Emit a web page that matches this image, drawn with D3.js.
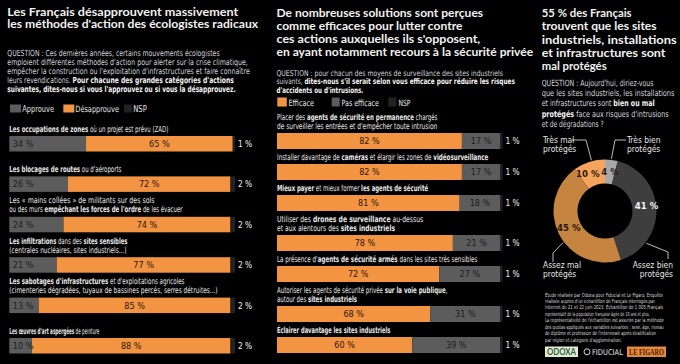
<!DOCTYPE html>
<html><head><meta charset="utf-8">
<script src="https://cdn.jsdelivr.net/npm/d3@7"></script>
<style>
html,body{margin:0;padding:0;background:#000;}
svg{display:block;}
</style></head>
<body>
<svg id="c" width="680" height="364"></svg>
<script>
// ---------------- DATA ----------------
const p1Title = ["Les Français désapprouvent massivement","les méthodes d'action des écologistes radicaux"];
const p1Question = [
  "QUESTION : Ces dernières années, certains mouvements écologistes",
  "emploient différentes méthodes d'action pour alerter sur la crise climatique,",
  "empêcher la construction ou l'exploitation d'infrastructures et faire connaître",
  "leurs revendications. **Pour chacune des grandes catégories d'actions**",
  "**suivantes, dites-nous si vous l'approuvez ou si vous la désapprouvez.**"
];
const p1Legend = ["Approuve","Désapprouve","NSP"];
const p1Categories = [
  ["**Les occupations de zones** où un projet est prévu (ZAD)"],
  ["**Les blocages de routes** ou d'aéroports"],
  ["Les « mains collées » de militants sur des sols","ou des murs **empêchant les forces de l'ordre** de les évacuer"],
  ["**Les infiltrations** dans des **sites sensibles**","(centrales nucléaires, sites industriels...)"],
  ["**Les sabotages d'infrastructures** et d'exploitations agricoles","(cimenteries dégradées, tuyaux de bassines percés, serres détruites...)"],
  ["**Les œuvres d'art aspergées** de peinture"]
];
const p1Approve    = [34, 26, 24, 21, 13, 10];
const p1Disapprove = [65, 72, 74, 77, 85, 88];
const p1Nsp        = [1, 2, 2, 2, 2, 2];

const p2Title = ["De nombreuses solutions sont perçues","comme efficaces pour lutter contre","ces actions auxquelles ils s'opposent,","en ayant notamment recours à la sécurité privée"];
const p2Question = [
  "QUESTION : pour chacun des moyens de surveillance des sites industriels",
  "suivants, **dites-nous s'il serait selon vous efficace pour réduire les risques**",
  "**d'accidents ou d'intrusions.**"
];
const p2Legend = ["Efficace","Pas efficace","NSP"];
const p2Categories = [
  ["Placer des **agents de sécurité en permanence** chargés","de surveiller les entrées et d'empêcher toute intrusion"],
  ["Installer davantage de **caméras** et élargir les zones de **vidéosurveillance**"],
  ["**Mieux payer** et mieux former **les agents de sécurité**"],
  ["Utiliser des **drones de surveillance** au-dessus","et aux alentours des **sites industriels**"],
  ["La présence d'**agents de sécurité armés** dans les sites très sensibles"],
  ["Autoriser les agents de sécurité privée **sur la voie publique**,","autour des **sites industriels**"],
  ["**Éclairer davantage les sites industriels**"]
];
const p2Effective    = [82, 82, 81, 78, 72, 68, 60];
const p2NotEffective = [17, 17, 18, 21, 27, 31, 39];
const p2Nsp          = [1, 1, 1, 1, 1, 1, 1];

const p3Title = ["55 % des Français","trouvent que les sites","industriels, installations","et infrastructures sont","mal protégés"];
const p3Question = [
  "QUESTION : Aujourd'hui, diriez-vous",
  "que les sites industriels, les installations",
  "et infrastructures sont **bien ou mal**",
  "**protégés** face aux risques d'intrusions",
  "et de dégradations ?"
];
const donutCategories = [["Très bien","protégés"],["Assez bien","protégés"],["Assez mal","protégés"],["Très mal","protégés"]];
const donutValues = [4, 41, 45, 10];

const footnote = [
  "Étude réalisée par Odoxa pour Fiducial et Le Figaro. Enquête",
  "réalisée auprès d'un échantillon de Français interrogés par",
  "Internet du 21 et 22 juin 2023. Échantillon de 1 005 Français",
  "représentatif de la population française âgée de 18 ans et plus.",
  "La représentativité de l'échantillon est assurée par la méthode",
  "des quotas appliqués aux variables suivantes : sexe, âge, niveau",
  "de diplôme et profession de l'interviewé après stratification",
  "par région et catégorie d'agglomération."
];

// ---------------- LAYOUT / STYLE ----------------
const C = {orange:"#f39443", gray:"#5c5c5c", nsp:"#222222", text:"#eeeeee", q:"#cfd6dd", dark:"#222"};
const FT = "'Lato','Open Sans','Noto Sans',sans-serif";
const FB = "'Liberation Sans Narrow','DejaVu Sans Condensed','Roboto Condensed','Liberation Sans',sans-serif";
const p1TitleW = [231, 251], p1QW = [212, 240, 242, 226, 228];
const p1LabelW = [[159],[112],[145,173],[118,117],[175,208],[90]];
const p2TitleW = [207, 186, 204, 257], p2QW = [227, 239, 87];
const p2LabelW = [[160,160],[211],[151],[146,118],[200],[170,80],[113]];
const p3TitleW = [90, 115, 135, 124, 65], p3QW = [112, 133, 113, 127, 62];
const footW = [118, 110, 118, 105, 119, 119, 111, 77];

const svg = d3.select("#c");
svg.append("rect").attr("width",680).attr("height",364).attr("fill","#000");

function rich(parent, str, o) {
  const g = parent.append("g").attr("transform", `translate(${o.x},${o.y})`);
  const t = g.append("text").attr("font-size", o.size).attr("font-family", o.family || FB)
    .attr("fill", o.fill || C.text).attr("text-anchor", o.anchor || "start");
  str.split("**").forEach((seg, i) => {
    if (!seg) return;
    const s = t.append("tspan").text(seg).attr("font-weight", i % 2 ? 700 : (o.weight || 400));
    if (i % 2 && o.boldFill) s.attr("fill", o.boldFill);
  });
  if (o.w) {
    const nat = t.node().getComputedTextLength();
    if (nat > 0) g.attr("transform", `translate(${o.x},${o.y}) scale(${o.w / nat},1)`);
  }
  return t;
}

// ---------------- PANEL 1 ----------------
const g1 = svg.append("g");
p1Title.forEach((s, i) => rich(g1, s, {x:7.3, y:16 + i*12, size:12, family:FT, weight:700, fill:"#f2f2f2", w:p1TitleW[i]}));
p1Question.forEach((s, i) => rich(g1, s, {x:7.3, y:56 + i*9, size:8.4, fill:C.q, boldFill:"#f4f4f4", w:p1QW[i]}));
[[C.gray,10,22.3,31.7],[C.orange,63.3,75.3,43.7],[C.nsp,124,133.3,13.4]].forEach((d, i) => {
  g1.append("rect").attr("x", d[1]).attr("y", 104.5).attr("width", i===2?8:11).attr("height", 8).attr("fill", d[0]);
  rich(g1, p1Legend[i], {x:d[2], y:112, size:8.6, fill:"#e6e6e6", w:d[3]});
});
const x1 = d3.scaleLinear().domain([0, 100]).range([9.3, 235]);
const y1 = d3.scaleBand().domain(d3.range(p1Categories.length)).range([136, 136 + 40.4*6]).paddingInner(0);
const bh1 = 15.5;
p1Categories.forEach((lines, i) => {
  const top = y1(i);
  lines.forEach((s, j) => rich(g1, s, {x:9.3, y: top - 4.5 - (lines.length - 1 - j)*9.2, size:8.4, fill:"#e8e8e8", w:p1LabelW[i][j]}));
  const a = p1Approve[i], d = p1Disapprove[i], n = p1Nsp[i];
  g1.append("rect").attr("x", x1(0)).attr("y", top).attr("width", x1(a) - x1(0)).attr("height", bh1).attr("fill", C.gray);
  g1.append("rect").attr("x", x1(a)).attr("y", top).attr("width", x1(a + d) - x1(a)).attr("height", bh1).attr("fill", C.orange);
  g1.append("rect").attr("x", x1(a + d)).attr("y", top).attr("width", x1(a + d + n) - x1(a + d)).attr("height", bh1).attr("fill", C.nsp);
  rich(g1, a + " %", {x:x1(0) + 3.5, y: top + bh1/2 + 3.2, size:9, fill:"#1e1e1e"});
  rich(g1, d + " %", {x:(x1(a) + x1(a + d))/2, y: top + bh1/2 + 3.2, size:9, fill:"#2a1707", anchor:"middle"});
  rich(g1, n + " %", {x:x1(100) + 3, y: top + bh1/2 + 3.2, size:8.3, fill:"#f0f0f0"});
});

// ---------------- PANEL 2 ----------------
const g2 = svg.append("g");
p2Title.forEach((s, i) => rich(g2, s, {x:276.5, y:16.5 + i*13.3, size:12, family:FT, weight:700, fill:"#f2f2f2", w:p2TitleW[i]}));
p2Question.forEach((s, i) => rich(g2, s, {x:276.5, y:75.5 + i*8.6, size:8, fill:C.q, boldFill:"#f4f4f4", w:p2QW[i]}));
[[C.orange,277.3,288.5,25.5],[C.gray,331.7,341.5,37.5],[C.nsp,388.3,398.5,12]].forEach((d, i) => {
  g2.append("rect").attr("x", d[1]).attr("y", 97.5).attr("width", i===0?9.5:8).attr("height", 9).attr("fill", d[0]);
  rich(g2, p2Legend[i], {x:d[2], y:105.5, size:8.6, fill:"#e6e6e6", w:d[3]});
});
const x2 = d3.scaleLinear().domain([0, 100]).range([277, 502.5]);
const bh2 = 16, lh2 = 9, gap2 = 6;
let tops2 = [], acc = 133;
p2Categories.forEach((lines, i) => {
  if (i > 0) acc += bh2 + gap2 + lines.length * lh2;
  tops2.push(acc);
});
p2Categories.forEach((lines, i) => {
  const top = tops2[i];
  lines.forEach((s, j) => rich(g2, s, {x:277, y: top - 4.5 - (lines.length - 1 - j)*8.8, size:8.4, fill:"#e8e8e8", w:p2LabelW[i][j]}));
  const e = p2Effective[i], ne = p2NotEffective[i], n = p2Nsp[i];
  g2.append("rect").attr("x", x2(0)).attr("y", top).attr("width", x2(e) - x2(0)).attr("height", bh2).attr("fill", C.orange);
  g2.append("rect").attr("x", x2(e)).attr("y", top).attr("width", x2(e + ne) - x2(e)).attr("height", bh2).attr("fill", C.gray);
  g2.append("rect").attr("x", x2(e + ne)).attr("y", top).attr("width", x2(e + ne + n) - x2(e + ne)).attr("height", bh2).attr("fill", C.nsp);
  rich(g2, e + " %", {x:(x2(0) + x2(e))/2, y: top + bh2/2 + 3.2, size:9, fill:"#2a1707", anchor:"middle"});
  rich(g2, ne + " %", {x:(x2(e) + x2(e + ne))/2, y: top + bh2/2 + 3.2, size:9, fill:"#1e1e1e", anchor:"middle"});
  rich(g2, n + " %", {x:x2(100) + 3, y: top + bh2/2 + 3.2, size:8.3, fill:"#f0f0f0"});
});

// ---------------- PANEL 3 ----------------
const g3 = svg.append("g");
p3Title.forEach((s, i) => rich(g3, s, {x:541.7, y:17 + i*13.3, size:12, family:FT, weight:700, fill:"#f2f2f2", w:p3TitleW[i]}));
p3Question.forEach((s, i) => rich(g3, s, {x:541.7, y:85.5 + i*10.4, size:8.6, fill:C.q, boldFill:"#f4f4f4", w:p3QW[i]}));

const cx = 605, cy = 211, rIn = 27.5, rOut = 51.5;
const donutColors = d3.scaleOrdinal().domain(d3.range(4)).range(["#a8a8a8", "#3e3e3e", "#c5843f", "#f6a35d"]);
const pie = d3.pie().sort(null).value(d => d)(donutValues);
const arc = d3.arc().innerRadius(rIn).outerRadius(rOut);
const labelArc = d3.arc().innerRadius((rIn + rOut)/2).outerRadius((rIn + rOut)/2);
const dg = g3.append("g").attr("transform", `translate(${cx},${cy})`);
dg.selectAll("path").data(pie).join("path").attr("d", arc).attr("fill", (d, i) => donutColors(i));
const pctFill = ["#222", "#f4f4f4", "#2a1707", "#2a1707"];
const pctShift = [[0,0],[2,-4],[-1,-1],[-5,0]];
pie.forEach((d, i) => {
  const c = labelArc.centroid(d);
  rich(dg, donutValues[i] + " %", {x:c[0] + pctShift[i][0], y:c[1] + 3.5 + pctShift[i][1], size:9.5, weight:700, fill:pctFill[i], anchor:"middle"});
});
// leader lines & category labels
const deg = Math.PI / 180;
const calloutAngles = [7*deg, 128*deg, 233*deg, 345*deg];
const calloutElbow = [[615,140],[668,252],[553,253],[586,140]];
const calloutEnd = [[626,140],[668,259],[553,262],[572,140]];
const calloutText = [[627,143,"start"],[673,268,"end"],[543,268,"start"],[543,143,"start"]];
donutCategories.forEach((lines, i) => {
  const p = d3.pointRadial(calloutAngles[i], rOut + 1);
  const pts = [[cx + p[0], cy + p[1]], calloutElbow[i], calloutEnd[i]];
  g3.append("path").attr("d", d3.line()(pts)).attr("fill", "none").attr("stroke", "#d0d0d0").attr("stroke-width", 0.9);
  lines.forEach((s, j) => rich(g3, s, {x:calloutText[i][0], y:calloutText[i][1] + j*9, size:8.4, fill:"#e8e8e8", anchor:calloutText[i][2]}));
});

// footnote
footnote.forEach((s, i) => rich(g3, s, {x:545, y:296.5 + i*6.45, size:5.6, fill:"#d8d8d8", w:footW[i]}));
// logos
g3.append("rect").attr("x", 545).attr("y", 346.5).attr("width", 33).attr("height", 10.5).attr("fill", "#e4ecd8");
rich(g3, "ODOXA", {x:561.5, y:355, size:8.5, weight:700, fill:"#2f5e35", anchor:"middle", family:FT, w:29});
g3.append("circle").attr("cx", 587).attr("cy", 351.8).attr("r", 3).attr("fill", "none").attr("stroke", "#d8d8d8").attr("stroke-width", 1);
rich(g3, "FIDUCIAL", {x:592, y:355, size:8, weight:400, fill:"#e0e0e0", family:"'DejaVu Sans',sans-serif", w:31});
g3.append("rect").attr("x", 627).attr("y", 346.5).attr("width", 39).attr("height", 10.5).attr("fill", "#e5893c");
rich(g3, "LE FIGARO", {x:646.5, y:354.8, size:7.5, weight:700, fill:"#4a1e05", anchor:"middle", family:"'Liberation Serif','DejaVu Serif',serif", w:35});
</script>
</body></html>
